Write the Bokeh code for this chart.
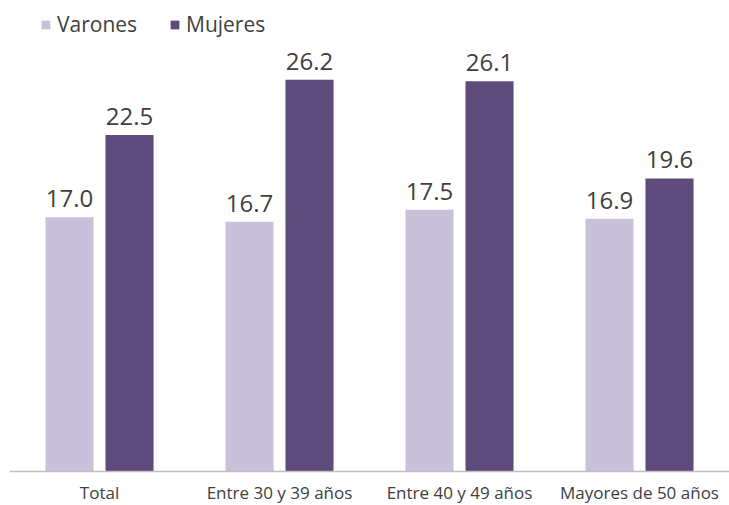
from bokeh.plotting import figure
from bokeh.models import ColumnDataSource, Range1d, Legend, LegendItem, Span
from bokeh.transform import dodge
from bokeh.core.properties import value
from bokeh.embed import file_html
from bokeh.resources import INLINE

categories = ["Total", "Entre 30 y 39 años", "Entre 40 y 49 años", "Mayores de 50 años"]
varones = [17.0, 16.7, 17.5, 16.9]
mujeres = [22.5, 26.2, 26.1, 19.6]
series_names = ["Varones", "Mujeres"]

FONT = "Open Sans"
TXT = "#404040"
C_V = "#C9C0DA"
C_M = "#5E4A7B"

src = ColumnDataSource(dict(
    cat=categories,
    zero=[0] * len(categories),
    v=varones,
    m=mujeres,
    vl=[f"{x:.1f}" for x in varones],
    ml=[f"{x:.1f}" for x in mujeres],
))

p = figure(x_range=categories, y_range=Range1d(-2.274, 31.5), width=729, height=505,
           output_backend="svg", toolbar_location=None,
           min_border_left=9, min_border_right=0, min_border_top=0, min_border_bottom=0)
p.outline_line_color = None
p.background_fill_color = "white"
p.xgrid.visible = False
p.ygrid.visible = False
p.xaxis.visible = False
p.yaxis.visible = False
p.x_range.range_padding = 0

rv = p.vbar(x=dodge("cat", -0.1667, range=p.x_range), top="v", width=0.267, source=src,
            fill_color=C_V, line_color=None)
rm = p.vbar(x=dodge("cat", 0.1667, range=p.x_range), top="m", width=0.267, source=src,
            fill_color=C_M, line_color=None)

for off, col in [(-0.1667, "v"), (0.1667, "m")]:
    p.text(x=dodge("cat", off, range=p.x_range), y=col, text=col + "l", source=src,
           text_align="center", text_baseline="bottom", y_offset=-10,
           text_font=value(FONT), text_font_size="24px", text_color=TXT)

p.add_layout(Span(location=0, dimension="width", line_color="#BFBFBF", line_width=1.5))

p.text(x="cat", y="zero", text="cat", source=src,
       text_align="center", text_baseline="top", y_offset=10,
       text_font=value(FONT), text_font_size="17px", text_color=TXT)

legend = Legend(items=[LegendItem(label=series_names[0], renderers=[rv]),
                       LegendItem(label=series_names[1], renderers=[rm])],
                orientation="horizontal", location=(31, 467),
                glyph_width=11, glyph_height=11, label_standoff=6, spacing=22,
                label_width=90,
                label_text_font=FONT, label_text_font_size="21px", label_text_color=TXT,
                border_line_color=None, background_fill_alpha=0, padding=0, margin=0)
p.add_layout(legend, "center")

open("out.html", "w").write(file_html(p, INLINE))
